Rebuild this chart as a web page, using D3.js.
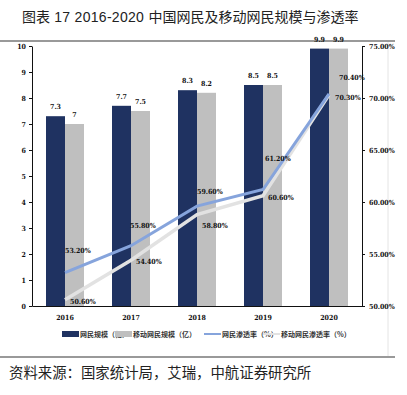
<!DOCTYPE html>
<html>
<head>
<meta charset="utf-8">
<script src="https://cdn.jsdelivr.net/npm/d3@7"></script>
<style>
  body { margin: 0; background: #fff; }
  svg text { font-family: "Liberation Serif", "Noto Sans CJK SC", serif; }
</style>
</head>
<body>
<div id="chart"></div>
<script>
// data
var years = ["2016", "2017", "2018", "2019", "2020"];
var netUsers = [7.3, 7.7, 8.3, 8.5, 9.9];          // 网民规模（亿）
var mobileUsers = [7, 7.5, 8.2, 8.5, 9.9];         // 移动网民规模（亿）
var netRate = [53.2, 55.8, 59.6, 61.2, 70.4];      // 网民渗透率（%）
var mobileRate = [50.6, 54.4, 58.8, 60.6, 70.3];   // 移动网民渗透率（%）
var leftTicks = [0, 1, 2, 3, 4, 5, 6, 7, 8, 9, 10];
var rightTicks = [50, 55, 60, 65, 70, 75];

var W = 407, H = 395;
var plot = {left: 32, right: 362, top: 46, bottom: 306};
var numFont = "'DejaVu Serif Condensed', 'DejaVu Serif', serif";
var cjkFont = "'Noto Sans CJK SC', sans-serif";

var svg = d3.select("#chart")
  .append("svg")
    .attr("width", W)
    .attr("height", H);

// title + rules
var title = svg.append("text")
  .attr("x", 22).attr("y", 22)
  .attr("xml:space", "preserve")
  .style("font-family", cjkFont)
  .style("font-size", "14px")
  .attr("fill", "#222");
title.append("tspan").text("图表");
title.append("tspan")
  .style("font-family", "'Liberation Sans', sans-serif")
  .style("letter-spacing", "0.3px")
  .text(" 17 2016-2020 ");
title.append("tspan").text("中国网民及移动网民规模与渗透率");

svg.append("line")
  .attr("x1", 0).attr("x2", 395).attr("y1", 41).attr("y2", 41)
  .attr("stroke", "#777").attr("stroke-width", 1.5);
svg.append("line")
  .attr("x1", 388).attr("x2", 388).attr("y1", 42).attr("y2", 356)
  .attr("stroke", "#e4e4e4").attr("stroke-width", 1);
svg.append("line")
  .attr("x1", 0).attr("x2", 395).attr("y1", 357).attr("y2", 357)
  .attr("stroke", "#777").attr("stroke-width", 1.5);
svg.append("text")
  .attr("x", 9).attr("y", 378)
  .style("font-family", cjkFont)
  .style("font-size", "14.4px")
  .attr("fill", "#222")
  .text("资料来源：国家统计局，艾瑞，中航证券研究所");

// scales
var x = d3.scaleBand()
  .domain(years)
  .range([plot.left, plot.right]);
var bw = 19;
var yL = d3.scaleLinear().domain([0, 10]).range([plot.bottom, plot.top]);
var yR = d3.scaleLinear().domain([50, 75]).range([plot.bottom, plot.top]);

var navy = "#1f3261", grey = "#bfbfbf", blue = "#86a4dc", light = "#e2e2e2";

// bars
svg.append("g").selectAll("rect")
  .data(netUsers)
  .join("rect")
    .attr("x", function(d, i) { return x(years[i]) + x.bandwidth() / 2 - bw; })
    .attr("y", function(d) { return yL(d); })
    .attr("width", bw)
    .attr("height", function(d) { return yL(0) - yL(d); })
    .attr("fill", navy);
svg.append("g").selectAll("rect")
  .data(mobileUsers)
  .join("rect")
    .attr("x", function(d, i) { return x(years[i]) + x.bandwidth() / 2; })
    .attr("y", function(d) { return yL(d); })
    .attr("width", bw)
    .attr("height", function(d) { return yL(0) - yL(d); })
    .attr("fill", grey);

var small = function(sel) {
  return sel.style("font-family", numFont).style("font-size", "7px")
    .style("font-weight", "bold").attr("fill", "#111");
};

// bar value labels
svg.append("g").selectAll("text")
  .data(netUsers)
  .join("text")
    .attr("x", function(d, i) { return x(years[i]) + x.bandwidth() / 2 - bw / 2; })
    .attr("y", function(d) { return yL(d) - 7; })
    .attr("text-anchor", "middle")
    .text(function(d) { return d; })
    .call(small);
svg.append("g").selectAll("text")
  .data(mobileUsers)
  .join("text")
    .attr("x", function(d, i) { return x(years[i]) + x.bandwidth() / 2 + bw / 2; })
    .attr("y", function(d) { return yL(d) - 7; })
    .attr("text-anchor", "middle")
    .text(function(d) { return d; })
    .call(small);

// axes
var axL = svg.append("g")
  .attr("transform", "translate(" + plot.left + ",0)")
  .call(d3.axisLeft(yL).tickValues(leftTicks).tickSize(3).tickSizeOuter(0).tickPadding(3));
var axR = svg.append("g")
  .attr("transform", "translate(" + plot.right + ",0)")
  .call(d3.axisRight(yR).tickValues(rightTicks).tickSize(3).tickSizeOuter(0).tickPadding(4)
    .tickFormat(function(d) { return d.toFixed(2) + "%"; }));
var axB = svg.append("g")
  .attr("transform", "translate(0," + plot.bottom + ")")
  .call(d3.axisBottom(x).tickSize(0).tickSizeOuter(0).tickPadding(9));
[axL, axR, axB].forEach(function(a) {
  a.select(".domain").attr("stroke", "#111");
  a.selectAll("line").attr("stroke", "#111");
  a.selectAll("text").call(small);
});

// lines
var line = d3.line()
  .x(function(d, i) { return x(years[i]) + x.bandwidth() / 2; })
  .y(function(d) { return yR(d); });
svg.append("path")
  .datum(mobileRate)
  .attr("fill", "none")
  .attr("stroke", light)
  .attr("stroke-width", 3.5)
  .attr("d", line);
svg.append("path")
  .datum(netRate)
  .attr("fill", "none")
  .attr("stroke", blue)
  .attr("stroke-width", 3)
  .attr("d", line);

// line labels (offsets from each point)
var netDx = [0, -1, 0, 2, 10], netDy = [-20, -18, -12, -29, -14];
var mobDx = [5, 5, 5, 5, 6], mobDy = [4, 4, 14, 4, 5];
svg.append("g").selectAll("text")
  .data(netRate)
  .join("text")
    .attr("x", function(d, i) { return x(years[i]) + x.bandwidth() / 2 + netDx[i]; })
    .attr("y", function(d, i) { return yR(d) + netDy[i]; })
    .text(function(d) { return d.toFixed(2) + "%"; })
    .call(small);
svg.append("g").selectAll("text")
  .data(mobileRate)
  .join("text")
    .attr("x", function(d, i) { return x(years[i]) + x.bandwidth() / 2 + mobDx[i]; })
    .attr("y", function(d, i) { return yR(d) + mobDy[i]; })
    .text(function(d) { return d.toFixed(2) + "%"; })
    .call(small);

// legend
var legend = [
  {name: "网民规模（亿）", kind: "rect", color: navy, x: 62},
  {name: "移动网民规模（亿）", kind: "rect", color: grey, x: 115},
  {name: "网民渗透率（%）", kind: "line", color: blue, x: 204},
  {name: "移动网民渗透率（%）", kind: "line", color: light, x: 263}
];
var lg = svg.append("g").selectAll("g")
  .data(legend)
  .join("g")
    .attr("transform", function(d) { return "translate(" + d.x + ",334)"; });
lg.filter(function(d) { return d.kind == "rect"; })
  .append("rect")
    .attr("x", 0).attr("y", -3).attr("width", 17).attr("height", 6)
    .attr("fill", function(d) { return d.color; });
lg.filter(function(d) { return d.kind == "line"; })
  .append("line")
    .attr("x1", 0).attr("x2", 17).attr("y1", 0).attr("y2", 0)
    .attr("stroke", function(d) { return d.color; })
    .attr("stroke-width", 2);
lg.append("text")
  .attr("x", 18).attr("y", 3)
  .style("font-family", cjkFont)
  .style("font-size", "7px")
  .style("font-weight", "bold")
  .attr("fill", "#333")
  .text(function(d) { return d.name; });
</script>
</body>
</html>
